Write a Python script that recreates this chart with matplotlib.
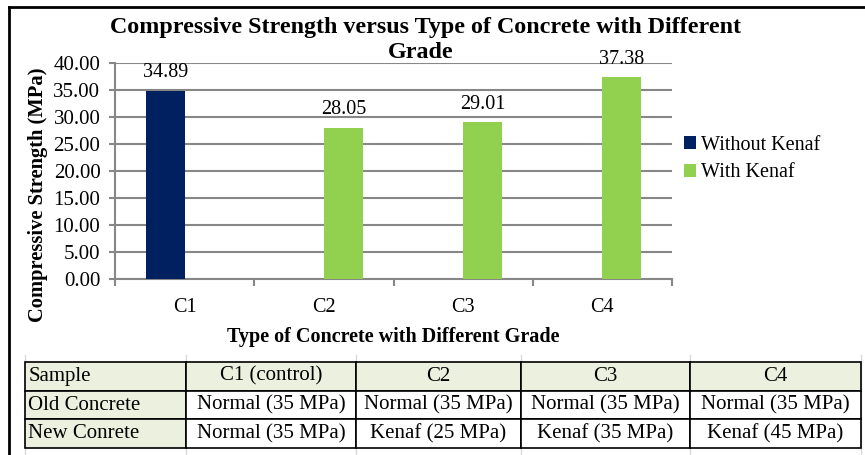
import numpy as np
import matplotlib.pyplot as plt
from matplotlib.lines import Line2D

plt.rcParams['font.family'] = ['Liberation Serif', 'DejaVu Serif']

# DATA
categories = ["C1", "C2", "C3", "C4"]
without_kenaf = [34.89, np.nan, np.nan, np.nan]
with_kenaf = [np.nan, 28.05, 29.01, 37.38]

table_header = ["Sample", "C1 (control)", "C2", "C3", "C4"]
table_rows = [
    ["Old Concrete", "Normal (35 MPa)", "Normal (35 MPa)", "Normal (35 MPa)", "Normal (35 MPa)"],
    ["New Conrete", "Normal (35 MPa)", "Kenaf (25 MPa)", "Kenaf (35 MPa)", "Kenaf (45 MPa)"],
]

W, H = 865, 455
NAVY = "#002060"
GREEN = "#92D050"
GRID = "#878787"


def fx(px):
    return px / W


def fy(py):
    return 1 - py / H


fig = plt.figure(figsize=(W / 100, H / 100), dpi=100)

# chart plot area
ax = fig.add_axes([fx(115), fy(279), fx(672) - fx(115), fy(63) - fy(279)])
x = np.arange(len(categories))
bw = 0.28
b1 = ax.bar(x - bw / 2, without_kenaf, bw, color=NAVY, label="Without Kenaf", zorder=3)
b2 = ax.bar(x + bw / 2, with_kenaf, bw, color=GREEN, label="With Kenaf", zorder=3)

for bars, vals in ((b1, without_kenaf), (b2, with_kenaf)):
    for rect, v in zip(bars, vals):
        if np.isnan(v):
            continue
        ax.text(rect.get_x() + rect.get_width() / 2, v + 1.5, f"{v:.2f}",
                ha="center", va="bottom", fontsize=14.5, zorder=4)

ax.set_xlim(-0.5, 3.5)
ax.set_ylim(0, 40)
ax.set_yticks(np.arange(0, 41, 5))
ax.set_yticklabels([f"{t:.2f}" for t in np.arange(0, 41, 5)], fontsize=15)
ax.set_xticks(x)
ax.set_xticklabels(categories, fontsize=14.5)
ax.set_xticks(np.arange(-0.5, 4, 1), minor=True)
ax.tick_params(axis="x", which="major", length=0, pad=14)
ax.tick_params(axis="x", which="minor", length=5, color=GRID, width=1.5)
ax.tick_params(axis="y", length=4.5, color=GRID, width=1.5, pad=6)
ax.grid(axis="y", color=GRID, linewidth=1.5, zorder=0)
for s in ("top", "right"):
    ax.spines[s].set_visible(False)
for s in ("left", "bottom"):
    ax.spines[s].set_color(GRID)
    ax.spines[s].set_linewidth(1.5)

ax.set_xlabel("Type of Concrete with Different Grade", fontsize=14.5,
              fontweight="bold", labelpad=7)
ax.set_ylabel("Compressive Strength (MPa)", fontsize=14.8, fontweight="bold")
ax.yaxis.set_label_coords((48 - 115) / (672 - 115), (279 - 195) / (279 - 63))

fig.text(fx(425), fy(27), "Compressive Strength versus Type of Concrete with Different",
         ha="center", va="center", fontsize=17.3, fontweight="bold")
fig.text(fx(421), fy(53), "Grade",
         ha="center", va="center", fontsize=17.3, fontweight="bold")

ax.legend(loc="center left", bbox_to_anchor=(fx(684), fy(159)),
          bbox_transform=fig.transFigure, frameon=False, fontsize=14.5,
          borderpad=0, borderaxespad=0,
          handlelength=0.6, handleheight=0.6, handletextpad=0.25, labelspacing=0.42)

# outer chart frame
fig.add_artist(Line2D([fx(9), fx(9)], [fy(7), 0], color="black", lw=2))
fig.add_artist(Line2D([fx(9), 1], [fy(7), fy(7)], color="black", lw=2))

# faint spreadsheet gridlines
col_edges = [25, 186, 356, 521, 690, 861]
for cx in col_edges:
    fig.add_artist(Line2D([fx(cx), fx(cx)], [fy(355), 0], color="#d9d9d9", lw=1, zorder=0))

# table
tax = fig.add_axes([fx(25), fy(448), fx(861) - fx(25), fy(362) - fy(448)])
tax.axis("off")
widths = np.diff(col_edges) / (col_edges[-1] - col_edges[0])
cells = [table_header] + table_rows
colours = [["#EBF1DE"] * 5] + [["#EBF1DE"] + ["white"] * 4 for _ in table_rows]
tbl = tax.table(cellText=cells, cellColours=colours, colWidths=list(widths),
                bbox=[0, 0, 1, 1], cellLoc="center")
tbl.auto_set_font_size(False)
for (r, c), cell in tbl.get_celld().items():
    cell.set_edgecolor("black")
    cell.set_linewidth(1.2)
    cell.get_text().set_fontsize(15)
    if c == 0:
        cell.get_text().set_ha("left")
        cell.PAD = 0.02

fig.savefig("out.png", dpi=100)
